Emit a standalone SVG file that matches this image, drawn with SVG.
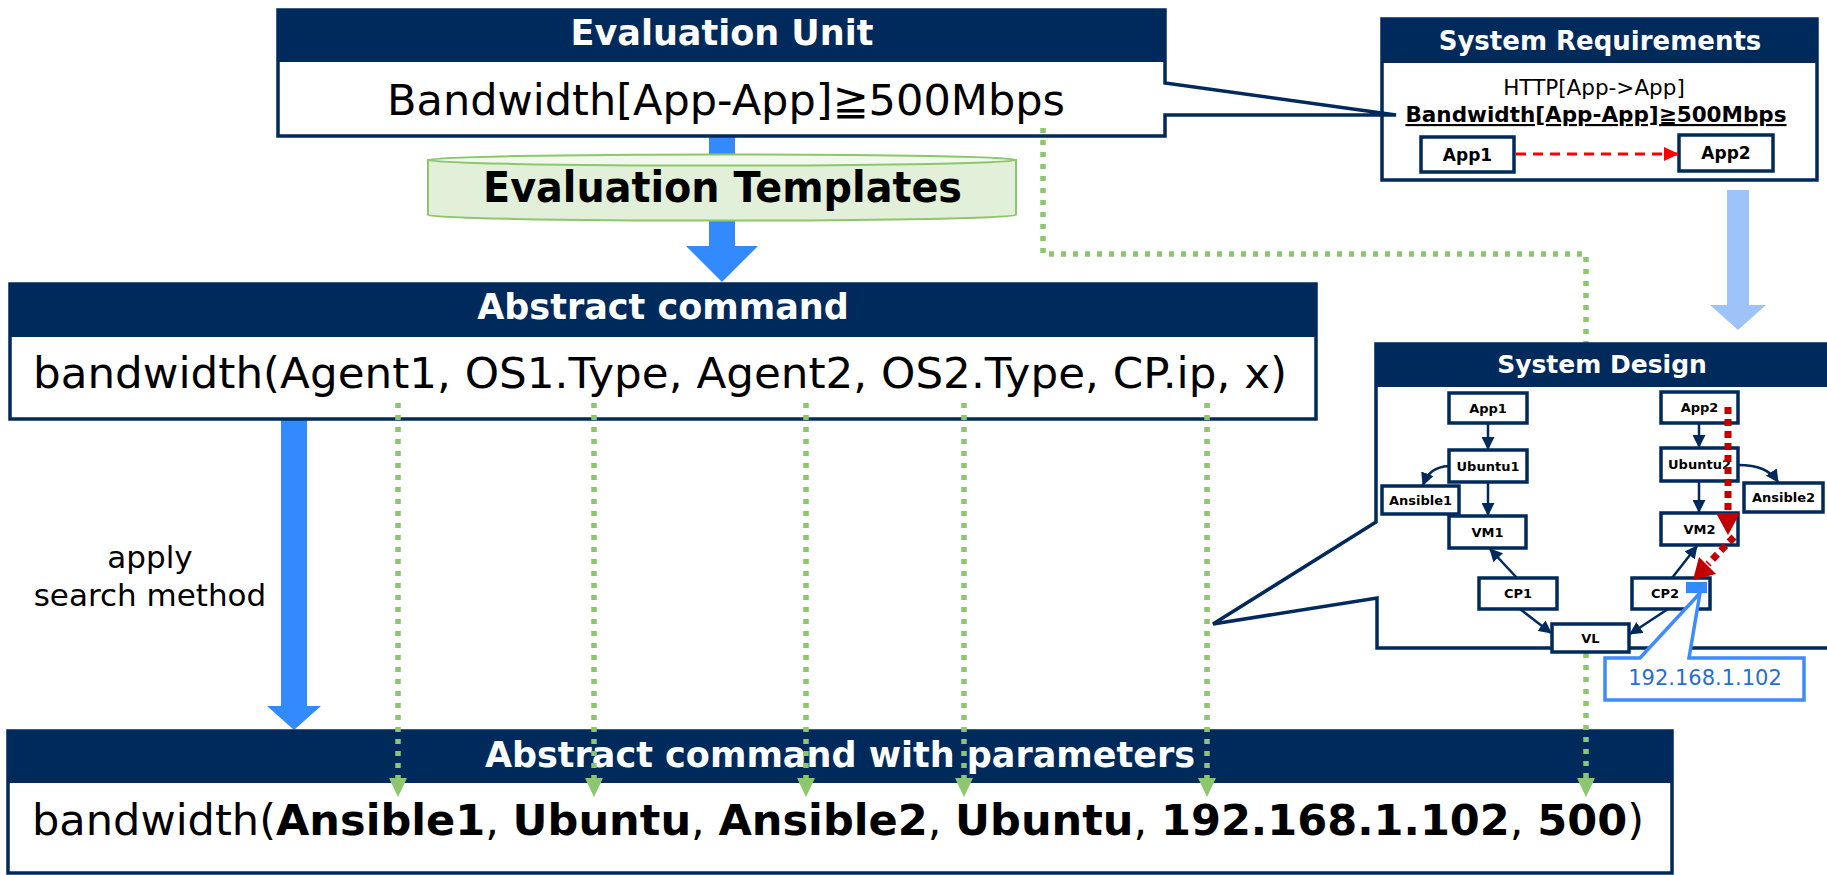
<svg xmlns="http://www.w3.org/2000/svg" width="1827" height="875" viewBox="0 0 1827 875">
<style>
  text { font-family: "DejaVu Sans", "Noto Sans CJK JP", sans-serif; }
  .hdr { fill: #002A5C; }
  .frame { fill: #ffffff; stroke: #002A5C; stroke-width: 3.5; stroke-linejoin: miter; }
  .htxt { fill: #ffffff; font-weight: bold; text-anchor: middle; }
  .body { fill: #000000; }
  .b { font-weight: bold; }
  .sd rect { fill: #ffffff; stroke: #002A5C; stroke-width: 3.5; }
  .sd text { font-size: 13px; font-weight: bold; text-anchor: middle; fill: #000; }
  .sdedge { fill: none; stroke: #002A5C; stroke-width: 2.5; marker-end: url(#navyHead); }
  .pl { fill: none; stroke: #8CC66E; stroke-width: 5.5; stroke-dasharray: 5 7; }
  .plh { fill: #8CC66E; }
  .blue { fill: #338AFF; }
</style>
<defs>
  <marker id="navyHead" markerUnits="userSpaceOnUse" markerWidth="13" markerHeight="13" refX="12" refY="6.5" orient="auto">
    <path d="M0,0 L13,6.5 L0,13 Z" fill="#002A5C"/>
  </marker>
  <marker id="redHead" markerUnits="userSpaceOnUse" markerWidth="15" markerHeight="14" refX="14" refY="7" orient="auto">
    <path d="M0,0 L15,7 L0,14 Z" fill="#FF0000"/>
  </marker>
</defs>

<!-- main flow arrows (behind boxes) -->
<g id="flow-arrows">
  <polygon class="blue" points="709,134 735,134 735,246 758,246 722,282 686,246 709,246"/>
  <polygon class="blue" points="281,418 307,418 307,706 321,706 294,730 267,706 281,706"/>
  <polygon fill="#9DC3F8" points="1727,190 1749,190 1749,305 1766,305 1738,330 1710,305 1727,305"/>
  <text x="150" y="568" font-size="31" text-anchor="middle">apply</text>
  <text x="150" y="606" font-size="31" text-anchor="middle">search method</text>
</g>

<!-- System Requirements -->
<g id="system-requirements">
  <rect class="frame" x="1382" y="19" width="435" height="161"/>
  <rect class="hdr" x="1382" y="19" width="435" height="44"/>
  <text class="htxt" x="1600" y="50" font-size="26">System Requirements</text>
  <text x="1594" y="95" font-size="21.5" text-anchor="middle">HTTP[App-&gt;App]</text>
  <text x="1596" y="122" font-size="21.5" font-weight="bold" text-anchor="middle" text-decoration="underline">Bandwidth[App-App]≧500Mbps</text>
  <rect x="1421" y="137" width="93" height="35" fill="#fff" stroke="#002A5C" stroke-width="3.5"/>
  <text x="1467.5" y="161" font-size="17" font-weight="bold" text-anchor="middle">App1</text>
  <rect x="1679" y="135" width="94" height="36" fill="#fff" stroke="#002A5C" stroke-width="3.5"/>
  <text x="1726" y="159" font-size="17" font-weight="bold" text-anchor="middle">App2</text>
  <line x1="1516" y1="154" x2="1678" y2="154" stroke="#FF0000" stroke-width="3" stroke-dasharray="10 7" marker-end="url(#redHead)"/>
</g>

<!-- Evaluation Unit (callout) -->
<g id="evaluation-unit">
  <path class="frame" d="M278,10 H1165 V83 L1396,115 H1165 V136 H278 Z"/>
  <rect class="hdr" x="278" y="10" width="887" height="52"/>
  <text class="htxt" x="722" y="45" font-size="35">Evaluation Unit</text>
  <text x="387" y="115" font-size="43" textLength="678" lengthAdjust="spacingAndGlyphs">Bandwidth[App-App]≧500Mbps</text>
</g>

<!-- Evaluation Templates (cylinder) -->
<g id="evaluation-templates">
  <path d="M428,160 V215 A294,5.5 0 0 0 1016,215 V160 Z" fill="#E2F0D9" stroke="#8DC66B" stroke-width="2"/>
  <ellipse cx="722" cy="160" rx="294" ry="5.5" fill="#F1F8EC" stroke="#8DC66B" stroke-width="2"/>
  <text x="483" y="202" font-size="43" font-weight="bold" textLength="479" lengthAdjust="spacingAndGlyphs">Evaluation Templates</text>
</g>

<!-- Abstract command -->
<g id="abstract-command">
  <rect class="frame" x="10" y="284" width="1306" height="135"/>
  <rect class="hdr" x="10" y="284" width="1306" height="53"/>
  <text class="htxt" x="663" y="319" font-size="35">Abstract command</text>
  <text x="33" y="388" font-size="43" textLength="1254" lengthAdjust="spacingAndGlyphs">bandwidth(Agent1, OS1.Type, Agent2, OS2.Type, CP.ip, x)</text>
</g>

<!-- Abstract command with parameters -->
<g id="abstract-command-with-parameters">
  <rect class="frame" x="8" y="731" width="1664" height="142"/>
  <rect class="hdr" x="8" y="731" width="1664" height="52"/>
  <text class="htxt" x="840" y="767" font-size="35">Abstract command with parameters</text>
  <text x="32" y="835" font-size="43" textLength="1612" lengthAdjust="spacingAndGlyphs">bandwidth(<tspan class="b">Ansible1</tspan>, <tspan class="b">Ubuntu</tspan>, <tspan class="b">Ansible2</tspan>, <tspan class="b">Ubuntu</tspan>, <tspan class="b">192.168.1.102</tspan>, <tspan class="b">500</tspan>)</text>
</g>

<!-- parameter links (green dotted connectors) -->
<g id="connectors">
  <path class="pl" d="M398,403 V778"/>
  <path class="pl" d="M594,403 V778"/>
  <path class="pl" d="M806,403 V778"/>
  <path class="pl" d="M964,403 V778"/>
  <path class="pl" d="M1207,403 V778"/>
  <path class="pl" d="M1043,128 V254 H1586 V778"/>
  <polygon class="plh" points="389,778 407,778 398,797"/>
  <polygon class="plh" points="585,778 603,778 594,797"/>
  <polygon class="plh" points="797,778 815,778 806,797"/>
  <polygon class="plh" points="955,778 973,778 964,797"/>
  <polygon class="plh" points="1198,778 1216,778 1207,797"/>
  <polygon class="plh" points="1577,778 1595,778 1586,797"/>
</g>

<!-- System Design (callout) -->
<g id="system-design" class="sd">
  <path d="M1376,344 H1840 V648 H1377 V598 L1213,624 L1376,522 Z" fill="#ffffff" stroke="#002A5C" stroke-width="3.5"/>
  <rect x="1376" y="344" width="470" height="43" style="fill:#002A5C;stroke:none"/>
  <text x="1602" y="373" style="font-size:25px;fill:#fff">System Design</text>

  <g id="sd-edges">
    <path class="sdedge" d="M1488,423 V449"/>
    <path class="sdedge" d="M1488,482 V515"/>
    <path class="sdedge" d="M1449,466 C1435,467 1428,472 1423,485"/>
    <path class="sdedge" d="M1517,578 L1490,549"/>
    <path class="sdedge" d="M1520,609 L1551,633"/>
    <path class="sdedge" d="M1699,423 V447"/>
    <path class="sdedge" d="M1699,481 V512"/>
    <path class="sdedge" d="M1738,465 C1758,465 1770,470 1778,482"/>
    <path class="sdedge" d="M1672,578 L1697,546"/>
    <path class="sdedge" d="M1668,609 L1630,634"/>
  </g>

  <g id="sd-app1"><rect x="1449" y="393" width="78" height="30"/><text x="1488" y="413">App1</text></g>
  <g id="sd-ubuntu1"><rect x="1449" y="450" width="78" height="32"/><text x="1488" y="471">Ubuntu1</text></g>
  <g id="sd-ansible1"><rect x="1382" y="486" width="77" height="28"/><text x="1420.5" y="505">Ansible1</text></g>
  <g id="sd-vm1"><rect x="1449" y="516" width="77" height="32"/><text x="1487.5" y="537">VM1</text></g>
  <g id="sd-cp1"><rect x="1479" y="578" width="78" height="31"/><text x="1518" y="598">CP1</text></g>
  <g id="sd-vl"><rect x="1552" y="624" width="77" height="28"/><text x="1590.5" y="643">VL</text></g>
  <g id="sd-app2"><rect x="1661" y="392" width="77" height="31"/><text x="1699.5" y="412">App2</text></g>
  <g id="sd-ubuntu2"><rect x="1661" y="448" width="77" height="33"/><text x="1699.5" y="469">Ubuntu2</text></g>
  <g id="sd-ansible2"><rect x="1744" y="483" width="79" height="29"/><text x="1783.5" y="502">Ansible2</text></g>
  <g id="sd-vm2"><rect x="1661" y="513" width="77" height="32"/><text x="1699.5" y="534">VM2</text></g>
  <g id="sd-cp2"><rect x="1632" y="578" width="78" height="31"/><text x="1665" y="598">CP2</text></g>

  <!-- red traffic path -->
  <g id="sd-traffic">
    <line x1="1728" y1="407" x2="1728" y2="513" stroke="#C00000" stroke-width="7" stroke-dasharray="7 5"/>
    <polygon points="1716,513 1740,513 1728,535" fill="#C00000"/>
    <line x1="1734" y1="537" x2="1708" y2="564" stroke="#C00000" stroke-width="7" stroke-dasharray="7 5"/>
    <polygon points="1693,580 1699,557 1716,574" fill="#C00000"/>
  </g>
  <rect x="1686" y="582" width="21" height="11" style="fill:#338AFF;stroke:none"/>
</g>

<!-- IP callout -->
<g id="ip-callout">
  <path d="M1605,658 H1640 L1700,593 L1689,658 H1804 V700 H1605 Z" fill="#ffffff" stroke="#3D8BFF" stroke-width="3.5" stroke-linejoin="miter"/>
  <text x="1705" y="685" font-size="21" fill="#1F6FD6" text-anchor="middle">192.168.1.102</text>
</g>
</svg>
